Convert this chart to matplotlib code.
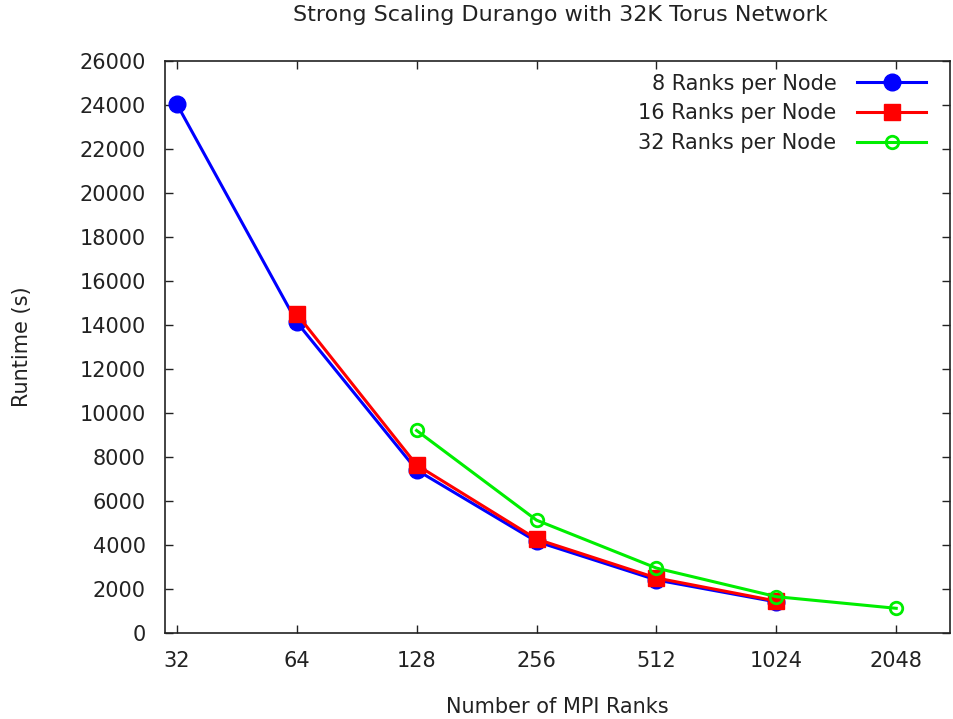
import matplotlib
matplotlib.use("Agg")
import matplotlib.pyplot as plt
import numpy as np

plt.rcParams["font.family"] = ["DejaVu Sans"]

# MPI rank counts and measured runtimes (seconds)
ranks = [32, 64, 128, 256, 512, 1024, 2048]
ranks_8 = [32, 64, 128, 256, 512, 1024]
runtime_8 = [24050, 14130, 7400, 4150, 2400, 1400]
ranks_16 = [64, 128, 256, 512, 1024]
runtime_16 = [14500, 7630, 4260, 2490, 1440]
ranks_32 = [128, 256, 512, 1024, 2048]
runtime_32 = [9200, 5120, 2940, 1640, 1110]
yticks = list(range(0, 26001, 2000))

fig = plt.figure(figsize=(9.54, 7.19), dpi=100)
ax = fig.add_axes([0.173, 0.120, 0.823, 0.795])

ax.plot(ranks_8, runtime_8, color="#0000ff", lw=2.2, marker="o", ms=12,
        label="8 Ranks per Node")
ax.plot(ranks_16, runtime_16, color="#ff0000", lw=2.2, marker="s", ms=12,
        label="16 Ranks per Node")
ax.plot(ranks_32, runtime_32, color="#00ee00", lw=2.2, marker="o", ms=9,
        mfc="none", mew=2, label="32 Ranks per Node")

ax.set_xscale("log", base=2)
ax.set_xlim(2 ** 4.902, 2 ** 11.45)
ax.set_ylim(0, 26000)
ax.set_xticks(ranks)
ax.set_xticklabels([str(r) for r in ranks])
ax.minorticks_off()
ax.set_yticks(yticks)

ax.tick_params(direction="in", top=True, right=True, length=6, width=1,
               labelsize=15, colors="#222222", pad=14)
ax.tick_params(axis="x", pad=13)
for s in ax.spines.values():
    s.set_linewidth(1.2)
    s.set_color("#222222")

ax.set_xlabel("Number of MPI Ranks", fontsize=15, color="#222222", labelpad=19)
ax.set_ylabel("Runtime (s)", fontsize=15, color="#222222", labelpad=34)
fig.text(0.587, 0.979, "Strong Scaling Durango with 32K Torus Network",
         ha="center", va="center", fontsize=16, color="#222222")

leg = ax.legend(loc="upper right", frameon=False, markerfirst=False,
                fontsize=15, handlelength=3.3, labelspacing=0.47,
                borderaxespad=0.2, handletextpad=1.0,
                bbox_to_anchor=(0.985, 1.0))
for t in leg.get_texts():
    t.set_color("#222222")

fig.savefig("out.png", dpi=100)
